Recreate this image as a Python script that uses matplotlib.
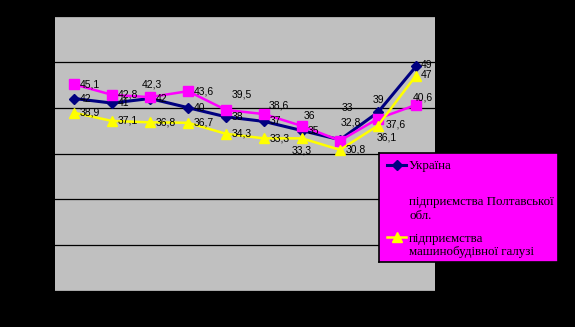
import numpy as np
import matplotlib
matplotlib.use("Agg")
import matplotlib.pyplot as plt

# data (10 points per series, y axis 0..60)
periods = np.arange(1, 11)
ukraine = [42, 41, 42, 40, 38, 37, 35, 33, 39, 49]
poltava = [45.1, 42.8, 42.3, 43.6, 39.5, 38.6, 36, 32.8, 37.6, 40.6]
machine = [38.9, 37.1, 36.8, 36.7, 34.3, 33.3, 33.3, 30.8, 36.1, 47]

series_names = ["Україна",
                "підприємства Полтавської\nобл.",
                "підприємства\nмашинобудівної галузі"]

# where each data label sits relative to its point (pixels, ha)
R = (6, 0, "left")
ukraine_lbl = [R, R, R, R, R, R, R, (7, 32, "center"), (0, 12, "center"), (5, 1, "left")]
poltava_lbl = [R, R, (2, 13, "center"), R, (16, 15, "center"), (15, 9, "center"),
               (7, 10, "center"), (11, 18, "center"), (18, -6, "center"), (7, 7, "center")]
machine_lbl = [R, R, R, R, R, R, (0, -12, "center"), R, (9, -12, "center"), (5, 1, "left")]


def fmt(v):
    if float(v).is_integer():
        return str(int(v))
    return str(v).replace(".", ",")


W, H = 575, 327
fig = plt.figure(figsize=(W / 100, H / 100), dpi=100, facecolor="black")
ax = fig.add_axes([55 / W, 1 - 291 / H, 380 / W, 275 / H])
ax.set_facecolor("#c0c0c0")
ax.set_xlim(0.5, 10.5)
ax.set_ylim(0, 60)
ax.set_yticks(np.arange(0, 61, 10))
ax.set_xticks(periods)
ax.tick_params(length=0, labelleft=False, labelbottom=False)
for sp in ax.spines.values():
    sp.set_visible(False)
ax.grid(axis="y", color="black", linewidth=0.9)
ax.set_axisbelow(True)

styles = [
    (ukraine, ukraine_lbl, "#000080", "D", 5.5, 2.2),
    (poltava, poltava_lbl, "#ff00ff", "s", 6.5, 1.8),
    (machine, machine_lbl, "#ffff00", "^", 7, 1.8),
]

for k, (vals, lbls, col, mk, ms, lw) in enumerate(styles):
    ax.plot(periods, vals, color=col, marker=mk, markersize=ms, linewidth=lw,
            markeredgecolor=col, zorder=3 + k)
    for x, v, (dx, dy, ha) in zip(periods, vals, lbls):
        ax.annotate(fmt(v), (x, v), xytext=(dx, dy), textcoords="offset pixels",
                    ha=ha, va="center", fontsize=7.5, family="Liberation Sans",
                    color="black", zorder=10, annotation_clip=False, clip_on=True)

# legend box drawn by hand in figure pixels
lg = fig.add_axes([379 / W, 1 - 262 / H, 179 / W, 109 / H])
lg.set_xlim(379, 558)
lg.set_ylim(262, 153)
lg.set_facecolor("#ff00ff")
lg.set_xticks([])
lg.set_yticks([])
for sp in lg.spines.values():
    sp.set_color("black")
    sp.set_linewidth(1.2)

legend_rows = [166, 209, 245.5]
legend_line_y = [165, 202, 237]
for (vals, lbls, col, mk, ms, lw), name, ty, ly in zip(styles, series_names, legend_rows, legend_line_y):
    lg.plot([387, 406], [ly, ly], color=col, linewidth=lw)
    lg.plot([396.5], [ly], marker=mk, color=col, markersize=ms, markeredgecolor=col)
    lg.text(409, ty, name, ha="left", va="center", fontsize=9.4,
            family="Liberation Serif", color="black", linespacing=1.15)

fig.savefig("out.png", dpi=100, facecolor="black")
